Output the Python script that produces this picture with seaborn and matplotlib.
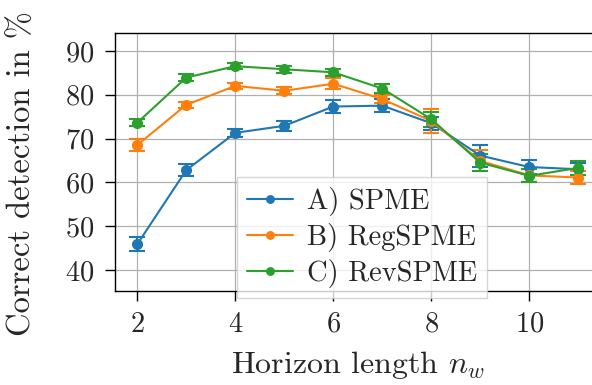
import matplotlib
matplotlib.use("Agg")
import matplotlib.pyplot as plt
import seaborn as sns
import pandas as pd
import numpy as np

horizon = [2, 3, 4, 5, 6, 7, 8, 9, 10, 11]
spme = [45.9, 62.8, 71.3, 72.9, 77.3, 77.5, 73.5, 66.1, 63.5, 63.0]
spme_err = [1.6, 1.4, 0.95, 1.1, 1.4, 1.45, 1.5, 2.5, 1.5, 1.4]
regspme = [68.5, 77.7, 82.0, 80.9, 82.5, 79.0, 74.0, 64.9, 61.6, 61.1]
regspme_err = [1.4, 0.7, 0.65, 0.8, 1.2, 1.0, 2.8, 2.4, 1.5, 1.5]
revspme = [73.6, 83.9, 86.5, 85.8, 85.1, 81.4, 74.4, 64.5, 61.5, 63.3]
revspme_err = [0.75, 0.75, 0.65, 0.8, 0.8, 1.1, 1.7, 1.9, 1.5, 1.6]
labels = ["A) SPME", "B) RegSPME", "C) RevSPME"]
colors = ["#1f77b4", "#ff7f0e", "#2ca02c"]

sns.set_theme(style="ticks")
plt.rcParams["font.family"] = ["cmr10", "DejaVu Serif"]
plt.rcParams["mathtext.fontset"] = "cm"
plt.rcParams["axes.formatter.use_mathtext"] = True
plt.rcParams["axes.unicode_minus"] = False

fig = plt.figure(figsize=(5.92, 3.85), dpi=100)
ax = fig.add_axes([115.2 / 592, (385 - 290.7) / 385, 485.2 / 592, 257.4 / 385])

series = [spme, regspme, revspme]
errs = [spme_err, regspme_err, revspme_err]

for lab, vals, e, c in zip(labels, series, errs, colors):
    ax.errorbar(horizon, vals, yerr=e, fmt="none", ecolor=c, elinewidth=1.5,
                capsize=5.5, capthick=1.5, zorder=2)
    sns.lineplot(x=horizon, y=vals, ax=ax, color=c, marker="o", markersize=8,
                 markeredgewidth=0, linewidth=1.5, label=lab, zorder=3)

ax.set_xlim(1.55, 11.45)
ax.set_ylim(35.3, 94.0)
ax.set_xticks([2, 4, 6, 8, 10])
ax.set_yticks([40, 50, 60, 70, 80, 90])
ax.grid(True, color="#b0b0b0", linewidth=0.9)
ax.set_axisbelow(True)
for s in ax.spines.values():
    s.set_color("black")
    s.set_linewidth(1.0)
ax.tick_params(axis="both", labelsize=20.5, length=7, width=1.0, color="black", pad=8)
ax.set_xlabel(r"Horizon length $n_w$", fontsize=23, labelpad=8)
ax.set_ylabel("Correct detection in %", fontsize=23.5)
ax.yaxis.set_label_coords(-0.163, 0.457)

leg = ax.legend(loc="lower left", bbox_to_anchor=(0.251, -0.028), fontsize=20.5,
                handlelength=1.6, handletextpad=0.5, borderpad=0.35,
                labelspacing=0.25, borderaxespad=0, fancybox=False,
                framealpha=0.8, edgecolor="#cccccc", markerscale=0.8)
leg.get_frame().set_linewidth(1.0)

fig.savefig("out.png", dpi=100)
